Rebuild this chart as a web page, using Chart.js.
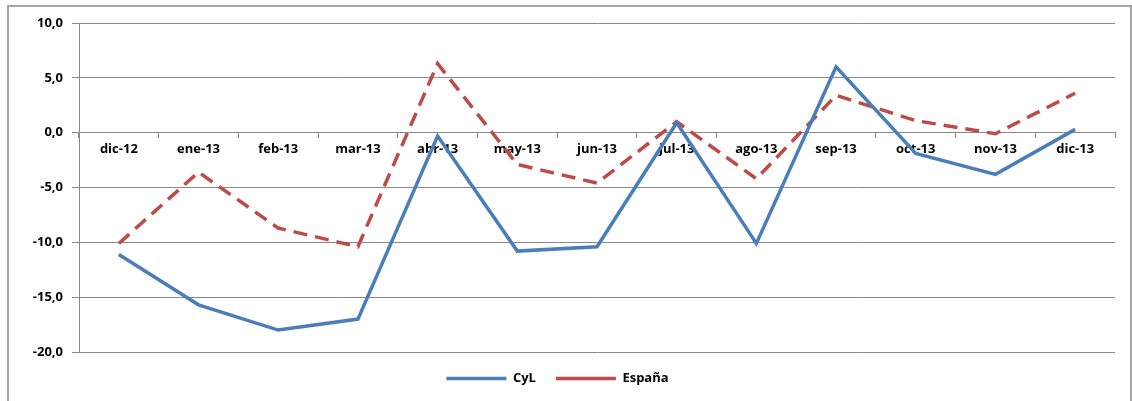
<!DOCTYPE html>
<html>
<head>
<meta charset="utf-8">
<script src="https://cdn.jsdelivr.net/npm/chart.js@4.4.1/dist/chart.umd.min.js"></script>
<style>
  html, body { margin: 0; padding: 0; background: #fff; }
  #wrap { position: relative; width: 1132px; height: 401px; overflow: hidden; }
  #frame { position: absolute; left: 7px; top: 5px; width: 1121px; height: 420px; border: 2px solid #a6a6a6; }
  #chart { position: absolute; left: 0; top: 0; }
</style>
</head>
<body>
<div id="wrap">
  <div id="frame"></div>
  <canvas id="chart" width="1132" height="401"></canvas>
</div>
<script>
let months = ["dic-12", "ene-13", "feb-13", "mar-13", "abr-13", "may-13", "jun-13",
    "jul-13", "ago-13", "sep-13", "oct-13", "nov-13", "dic-13"]
let cyl = [-11.1, -15.7, -18.0, -17.0, -0.3, -10.8, -10.4, 0.9, -10.1, 6.0, -1.9, -3.8, 0.3]
let espana = [-10.1, -3.6, -8.7, -10.4, 6.3, -2.9, -4.6, 1.0, -4.2, 3.4, 1.1, -0.1, 3.6]
let yMin = -20
let yMax = 10
let yStep = 5

let ctx = document.getElementById("chart")
let labelFont = { family: "'Open Sans', 'DejaVu Sans', sans-serif", size: 13, weight: "bold" }

let chart = new Chart(ctx, {
    type: 'line',
    data: {
        labels: months,
        datasets: [{
            label: "CyL",
            data: cyl,
            borderColor: '#4a7ebb',
            backgroundColor: '#4a7ebb',
            borderWidth: 3.5,
            pointRadius: 0,
            tension: 0,
            fill: false
        },
        {
            label: "España",
            data: espana,
            borderColor: '#be4b48',
            backgroundColor: '#be4b48',
            borderWidth: 3.5,
            borderDash: [14, 8],
            pointRadius: 0,
            tension: 0,
            fill: false
        }]
    },
    options: {
        responsive: false,
        animation: false,
        devicePixelRatio: 1,
        layout: { padding: { left: 0, right: 17, top: 23, bottom: 6 } },
        scales: {
            x: {
                position: { y: 0 },
                offset: true,
                grid: {
                    drawOnChartArea: false,
                    drawTicks: true,
                    tickLength: 5,
                    color: '#888888',
                    offset: true
                },
                border: { color: '#888888', width: 1 },
                ticks: {
                    font: labelFont,
                    color: '#000',
                    padding: 4,
                    maxRotation: 0,
                    autoSkip: false
                }
            },
            y: {
                min: yMin,
                max: yMax,
                afterFit: function (scale) { scale.width = 79 },
                grid: {
                    color: '#888888',
                    tickLength: 7,
                    drawTicks: true
                },
                border: { color: '#888888', width: 1 },
                ticks: {
                    stepSize: yStep,
                    font: labelFont,
                    color: '#000',
                    padding: 9,
                    // comma decimal, like the original
                    callback: function (value) {
                        return Number(value).toFixed(1).replace('.', ',')
                    }
                }
            }
        },
        plugins: {
            tooltip: { enabled: false },
            legend: {
                display: true,
                position: 'bottom',
                labels: {
                    usePointStyle: true,
                    pointStyle: 'line',
                    pointStyleWidth: 60,
                    font: labelFont,
                    color: '#000',
                    padding: 20
                }
            }
        }
    }
})
</script>
</body>
</html>
